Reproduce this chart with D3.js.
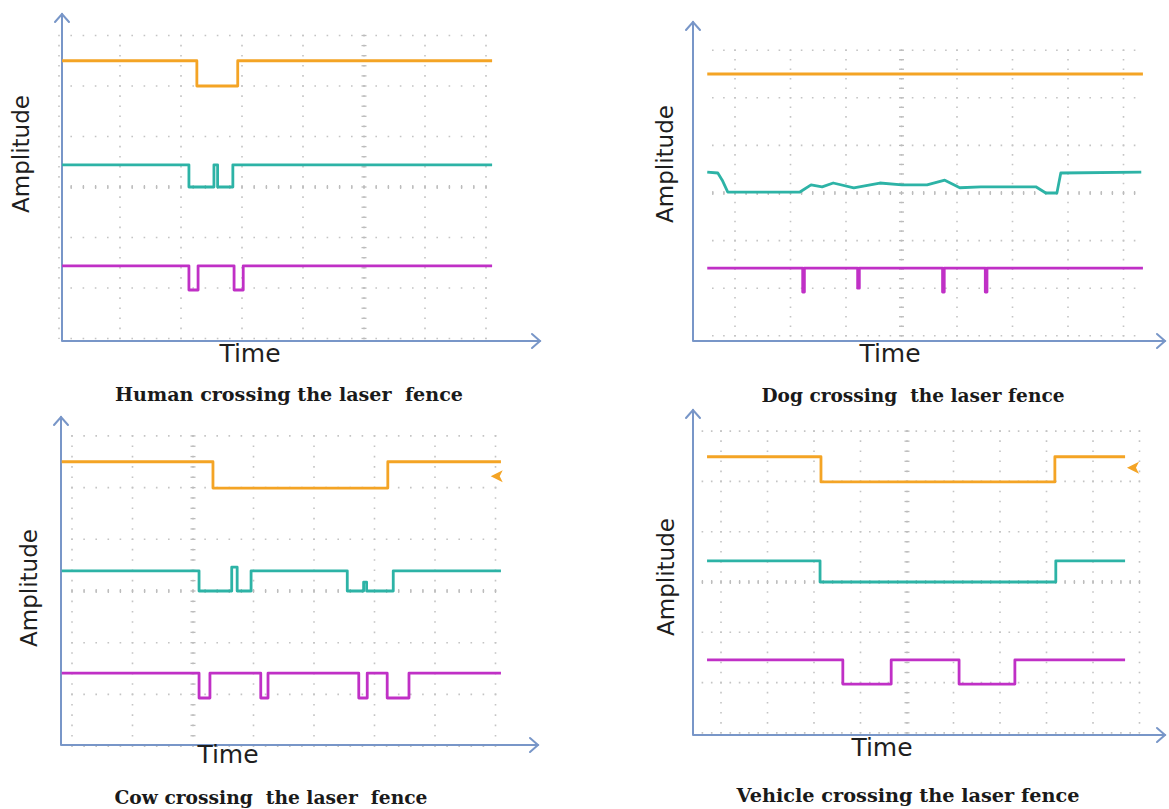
<!DOCTYPE html>
<html>
<head>
<meta charset="utf-8">
<script src="https://cdn.jsdelivr.net/npm/d3@7"></script>
<style>
  body{margin:0;background:#fff;}
  svg{display:block;}
  .axis-line{stroke:#7896c8;stroke-width:2;fill:none;stroke-linecap:round;}
  .grid-dot{stroke:#c4c4c4;stroke-width:1.6;fill:none;}
  .grid-tick{stroke:#bcbcbc;stroke-width:1.3;}
  .trace{fill:none;stroke-width:2.8;stroke-linejoin:round;}
  .axis-label{font-family:'DejaVu Sans',sans-serif;fill:#1e1e1e;}
  .caption{font-family:'DejaVu Serif',serif;font-weight:bold;fill:#1a1a1a;}
</style>
</head>
<body>
<svg id="chart" width="1169" height="809"></svg>
<script>
// ============== Data (time and amplitude in scope divisions) ==============
var captions = ['Human crossing the laser  fence', 'Dog crossing  the laser fence',
                'Cow crossing  the laser  fence', 'Vehicle crossing the laser fence'];
var xLabel = 'Time', yLabel = 'Amplitude';
var traceColors = ['#f4a425', '#2db3a6', '#c030c6'];   // orange, cyan, magenta

// step traces: [time, level]
var humanOrange  = [[-0.95,2.5],[1.26,2.0],[1.93,2.5],[6.1,2.5]];
var humanCyan    = [[-0.95,0.44],[1.13,0],[1.54,0.44],[1.6,0],[1.85,0.44],[6.1,0.44]];
var humanMagenta = [[-0.95,-1.56],[1.13,-2.04],[1.28,-1.56],[1.87,-2.04],[2.02,-1.56],[6.1,-1.56]];

var dogOrange  = [[-0.5,2.5],[7.35,2.5]];
// dog cyan is drawn point to point
var dogCyan    = [[-0.5,0.44],[-0.31,0.42],[-0.23,0.27],[-0.13,0.02],[1.17,0.02],[1.37,0.17],
                  [1.57,0.13],[1.77,0.21],[2.14,0.11],[2.61,0.21],[3.01,0.17],[3.46,0.17],
                  [3.78,0.27],[4.05,0.11],[4.43,0.13],[5.42,0.13],[5.6,0],[5.8,0],
                  [5.87,0.42],[7.32,0.44]];
var dogMagenta = [[-0.5,-1.58],[1.22,-2.08],[1.25,-1.58],[2.21,-2.0],[2.24,-1.58],
                  [3.74,-2.08],[3.77,-1.58],[4.51,-2.08],[4.54,-1.58],[7.35,-1.58]];

var cowOrange  = [[-0.17,2.5],[2.33,1.99],[5.22,2.5],[7.09,2.5]];
var cowCyan    = [[-0.17,0.39],[2.1,0],[2.64,0.46],[2.73,0],[2.96,0.39],[4.55,0],
                  [4.82,0.17],[4.87,0],[5.31,0.39],[7.09,0.39]];
var cowMagenta = [[-0.17,-1.59],[2.1,-2.07],[2.28,-1.59],[3.12,-2.07],[3.24,-1.59],
                  [4.74,-2.07],[4.88,-1.59],[5.21,-2.07],[5.57,-1.59],[7.09,-1.59]];
var cowMarker  = [7.02, 2.22];

var vehicleOrange  = [[-0.3,2.49],[2.15,1.99],[7.18,2.49],[8.69,2.49]];
var vehicleCyan    = [[-0.3,0.42],[2.13,0],[7.2,0.42],[8.69,0.42]];
var vehicleMagenta = [[-0.3,-1.55],[2.62,-2.03],[3.66,-1.55],[5.12,-2.03],[6.32,-1.55],[8.69,-1.55]];
var vehicleMarker  = [8.86, 2.27];

// ============== Layout ==============
var layouts = [
  {axisX:62,  axisTop:14,  axisY:341, axisRight:540,  gx0:62,  gx1:492,  gy0:35,  gy1:339,
   col0:120, dx:61,   cy:187, dy:50.5, tc:4, ampX:29,  ampY:154, timeX:250, timeY:362, capX:289, capY:401, capW:348},
  {axisX:693, axisTop:22,  axisY:341, axisRight:1165, gx0:710, gx1:1143, gy0:50,  gy1:337,
   col0:735, dx:55.5, cy:193, dy:47.6, tc:3, ampX:673, ampY:164, timeX:890, timeY:362, capX:913, capY:402, capW:303},
  {axisX:61,  axisTop:417, axisY:745, axisRight:538,  gx0:69,  gx1:501,  gy0:435, gy1:745,
   col0:72,  dx:60.5, cy:591, dy:51.7, tc:2, ampX:37,  ampY:588, timeX:228, timeY:763, capX:271, capY:804, capW:313},
  {axisX:693, axisTop:410, axisY:735, axisRight:1165, gx0:699, gx1:1140, gy0:431, gy1:733,
   col0:721, dx:46.5, cy:582, dy:50.3, tc:4, ampX:674, ampY:577, timeX:882, timeY:756, capX:908, capY:802, capW:343}
];

var panels = [
  {traces:[humanOrange, humanCyan, humanMagenta], smooth:[]},
  {traces:[dogOrange, dogCyan, dogMagenta], smooth:[1]},
  {traces:[cowOrange, cowCyan, cowMagenta], smooth:[], marker:cowMarker},
  {traces:[vehicleOrange, vehicleCyan, vehicleMagenta], smooth:[], marker:vehicleMarker}
];

var svg = d3.select('#chart');

panels.forEach(function(p, i){
  var L = layouts[i];
  var g = svg.append('g').attr('class', 'panel');

  var x = d3.scaleLinear().domain([0, 1]).range([L.col0, L.col0 + L.dx]);
  var y = d3.scaleLinear().domain([0, 1]).range([L.cy, L.cy - L.dy]);

  // ---- grid ----
  var cols = d3.range(Math.ceil(x.invert(L.gx0) - 0.05), Math.floor(x.invert(L.gx1) + 0.05) + 1);
  var rows = d3.range(Math.ceil(y.invert(L.gy1) - 0.05), Math.floor(y.invert(L.gy0) + 0.05) + 1);
  var minorX = L.dx / 5, minorY = L.dy / 5;

  // first dot positions aligned to the grid
  var rowStart = L.col0 - Math.floor((L.col0 - L.gx0) / minorX) * minorX;
  var colStart = L.cy - Math.floor((L.cy - L.gy0) / minorY) * minorY;

  g.selectAll('.grid-row')
    .data(rows)
    .enter()
    .append('line')
    .attr('class', 'grid-dot grid-row')
    .attr('x1', rowStart - 0.8).attr('x2', L.gx1)
    .attr('y1', function(d){ return y(d); }).attr('y2', function(d){ return y(d); })
    .attr('stroke-dasharray', '1.6,' + (minorX - 1.6));

  g.selectAll('.grid-col')
    .data(cols)
    .enter()
    .append('line')
    .attr('class', 'grid-dot grid-col')
    .attr('x1', function(d){ return x(d); }).attr('x2', function(d){ return x(d); })
    .attr('y1', colStart - 0.8).attr('y2', L.gy1)
    .attr('stroke-dasharray', '1.6,' + (minorY - 1.6));

  // centre lines carry small ticks
  var tickXs = d3.range(rowStart, L.gx1, minorX);
  g.selectAll('.tick-x')
    .data(tickXs)
    .enter()
    .append('line')
    .attr('class', 'grid-tick tick-x')
    .attr('x1', function(d){ return d; }).attr('x2', function(d){ return d; })
    .attr('y1', y(0) - 2).attr('y2', y(0) + 2);

  var tickYs = d3.range(colStart, L.gy1, minorY);
  g.selectAll('.tick-y')
    .data(tickYs)
    .enter()
    .append('line')
    .attr('class', 'grid-tick tick-y')
    .attr('x1', x(L.tc) - 2.5).attr('x2', x(L.tc) + 2.5)
    .attr('y1', function(d){ return d; }).attr('y2', function(d){ return d; });

  // ---- axes with open arrow heads ----
  g.append('path')
    .attr('class', 'axis-line')
    .attr('d', 'M' + L.axisX + ',' + L.axisY + 'V' + L.axisTop + 'M' + L.axisX + ',' + L.axisY + 'H' + L.axisRight);
  g.append('path')
    .attr('class', 'axis-line')
    .attr('d', 'M' + (L.axisX - 7) + ',' + (L.axisTop + 8) + 'L' + L.axisX + ',' + L.axisTop + 'L' + (L.axisX + 7) + ',' + (L.axisTop + 8));
  g.append('path')
    .attr('class', 'axis-line')
    .attr('d', 'M' + (L.axisRight - 8) + ',' + (L.axisY - 7) + 'L' + L.axisRight + ',' + L.axisY + 'L' + (L.axisRight - 8) + ',' + (L.axisY + 7));

  // ---- traces ----
  p.traces.forEach(function(tr, k){
    var line = d3.line()
      .x(function(d){ return x(d[0]); })
      .y(function(d){ return y(d[1]); })
      .curve(p.smooth.indexOf(k) >= 0 ? d3.curveLinear : d3.curveStepAfter);
    g.append('path')
      .attr('class', 'trace')
      .attr('stroke', traceColors[k])
      .attr('d', line(tr));
  });

  if(p.marker){
    g.append('path')
      .attr('fill', traceColors[0])
      .attr('transform', 'translate(' + x(p.marker[0]) + ',' + y(p.marker[1]) + ')')
      .attr('d', 'M-6,0L6,-6L3,0L6,6Z');
  }

  // ---- labels ----
  g.append('text')
    .attr('class', 'axis-label')
    .attr('transform', 'translate(' + L.ampX + ',' + L.ampY + ') rotate(-90)')
    .attr('text-anchor', 'middle')
    .style('font-size', '23px')
    .text(yLabel);

  g.append('text')
    .attr('class', 'axis-label')
    .attr('x', L.timeX).attr('y', L.timeY)
    .attr('text-anchor', 'middle')
    .style('font-size', '25px')
    .text(xLabel);

  g.append('text')
    .attr('class', 'caption')
    .attr('x', L.capX - L.capW / 2).attr('y', L.capY)
    .attr('textLength', L.capW)
    .attr('lengthAdjust', 'spacingAndGlyphs')
    .style('font-size', '19px')
    .style('white-space', 'pre')
    .text(captions[i]);
});
</script>
</body>
</html>
